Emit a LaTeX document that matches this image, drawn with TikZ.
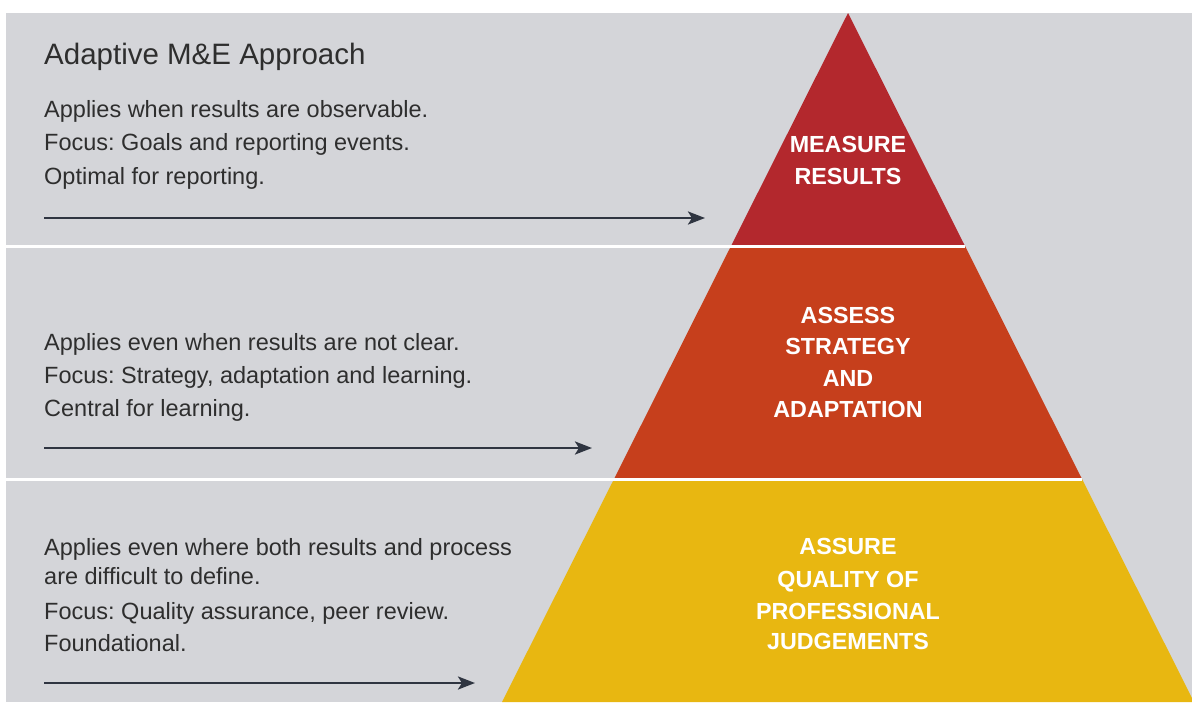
\documentclass[tikz,border=0pt]{standalone}
\usepackage{fontspec}
\setmainfont{Liberation Sans}
\usetikzlibrary{arrows.meta}
\definecolor{panelgray}{HTML}{D4D5D9}
\definecolor{tierred}{HTML}{B3282D}
\definecolor{tierorange}{HTML}{C63F1C}
\definecolor{tieryellow}{HTML}{E8B711}
\definecolor{bodytext}{HTML}{2E2E2E}
\definecolor{arrowink}{HTML}{2F3541}
\frenchspacing
\tikzset{
  title/.style={anchor=base west, inner sep=0pt, text=bodytext, font=\fontsize{29.5}{35}\selectfont},
  bodyline/.style={anchor=base west, inner sep=0pt, text=bodytext, font=\fontsize{23.5}{28}\selectfont},
  tierlabel/.style={anchor=base, inner sep=0pt, text=white, font=\bfseries\fontsize{23.3}{28}\selectfont},
  pointer/.style={draw=arrowink, line width=2.7pt, -{Stealth[length=17pt, width=13pt, inset=4pt]}},
  divider/.style={draw=white, line width=3pt}
}
\begin{document}
\begin{tikzpicture}[x=1pt, y=-1pt]
\useasboundingbox (0,0) rectangle (1192,702);
\fill[panelgray] (6,13) rectangle (1192,702);

% pyramid tiers
\begin{scope}
\clip (0,0) rectangle (1192,702);
\fill[tierred] (848,13) -- (965,246) -- (731,246) -- cycle;
\fill[tierorange] (731,246) -- (965,246) -- (1082,479) -- (614,479) -- cycle;
\fill[tieryellow] (614,479) -- (1082,479) -- (1194,702) -- (502,702) -- cycle;
\end{scope}

% white band dividers
\coordinate (d1a) at (6,246);  \coordinate (d1b) at (965,246);
\coordinate (d2a) at (6,479);  \coordinate (d2b) at (1082,479);
\draw[divider] (d1a) -- (d1b);
\draw[divider] (d2a) -- (d2b);

% heading and descriptions
\node[title] (heading) at (44,64) {Adaptive M\&E Approach};

\node[bodyline] (r1) at (44,117) {Applies when results are observable.};
\node[bodyline] (r2) at (44,150) {Focus: Goals and reporting events.};
\node[bodyline] (r3) at (44,184) {Optimal for reporting.};

\node[bodyline] (s1) at (44,350) {Applies even when results are not clear.};
\node[bodyline] (s2) at (44,383) {Focus: Strategy, adaptation and learning.};
\node[bodyline] (s3) at (44,416) {Central for learning.};

\node[bodyline] (q1) at (44,555) {Applies even where both results and process};
\node[bodyline] (q2) at (44,584) {are difficult to define.};
\node[bodyline] (q3) at (44,619) {Focus: Quality assurance, peer review.};
\node[bodyline] (q4) at (44,651) {Foundational.};

% pointers into the pyramid
\coordinate (p1a) at (44,218);  \coordinate (p1b) at (705,218);
\coordinate (p2a) at (44,448);  \coordinate (p2b) at (592,448);
\coordinate (p3a) at (44,683);  \coordinate (p3b) at (475,683);
\draw[pointer] (p1a) -- (p1b);
\draw[pointer] (p2a) -- (p2b);
\draw[pointer] (p3a) -- (p3b);

% tier labels
\node[tierlabel] (m1) at (848,152) {MEASURE};
\node[tierlabel] (m2) at (848,184) {RESULTS};

\node[tierlabel] (a1) at (848,323) {ASSESS};
\node[tierlabel] (a2) at (848,354) {STRATEGY};
\node[tierlabel] (a3) at (848,386) {AND};
\node[tierlabel] (a4) at (848,417) {ADAPTATION};

\node[tierlabel] (u1) at (848,554) {ASSURE};
\node[tierlabel] (u2) at (848,587) {QUALITY OF};
\node[tierlabel] (u3) at (848,619) {PROFESSIONAL};
\node[tierlabel] (u4) at (848,649) {JUDGEMENTS};
\end{tikzpicture}
\end{document}
